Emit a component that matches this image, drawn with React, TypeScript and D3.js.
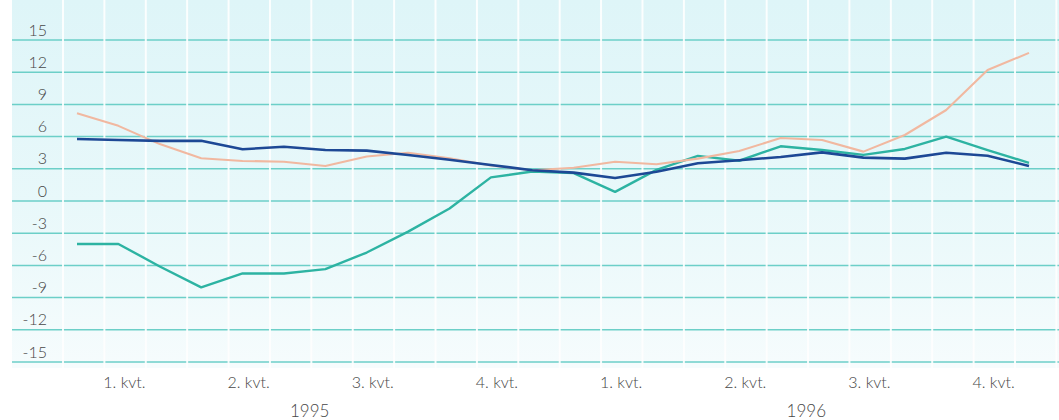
import React from "react";
import * as d3 from "d3";

// Monthly observations, Jan 1995 – Dec 1996
const years = ["1995", "1996"];
const quarterLabels = ["1. kvt.", "2. kvt.", "3. kvt.", "4. kvt."];
const yTicks = [15, 12, 9, 6, 3, 0, -3, -6, -9, -12, -15];

const seriesTeal = [
  -4.0, -4.0, -6.1, -8.05, -6.75, -6.75, -6.35, -4.8, -2.85, -0.7, 2.2, 2.75,
  2.6, 0.85, 2.9, 4.2, 3.75, 5.1, 4.75, 4.3, 4.85, 6.0, 4.75, 3.55,
];
const seriesBlue = [
  5.78, 5.68, 5.6, 5.62, 4.82, 5.06, 4.75, 4.69, 4.29, 3.85, 3.35, 2.87,
  2.64, 2.15, 2.73, 3.51, 3.8, 4.1, 4.53, 4.04, 3.95, 4.5, 4.22, 3.26,
];
const seriesSalmon = [
  8.17, 7.0, 5.3, 3.98, 3.73, 3.66, 3.26, 4.15, 4.5, 3.98, 3.3, 2.87,
  3.1, 3.66, 3.42, 3.95, 4.65, 5.87, 5.68, 4.6, 6.15, 8.48, 12.2, 13.8,
];

const W = 1059;
const H = 420;
const FONT = "Lato, 'Open Sans', sans-serif";
const TEXT = "#474747";

export default function App() {
  const x = d3.scaleLinear().domain([0, 23]).range([77, 1029]);
  const y = d3.scaleLinear().domain([-15, 15]).range([362, 40]);

  const line = d3
    .line<number>()
    .x((_, i) => x(i))
    .y((d) => y(d));

  const series = [
    { values: seriesTeal, color: "#2db3a2", width: 2.4 },
    { values: seriesSalmon, color: "#f1b8a0", width: 2.1 },
    { values: seriesBlue, color: "#1d4895", width: 2.6 },
  ];

  return (
    <svg
      width={W}
      height={H}
      style={{ position: "absolute", left: 0, top: 0, background: "#fff" }}
    >
      <defs>
        <linearGradient id="bg" x1="0" y1="0" x2="0" y2="1">
          <stop offset="0" stopColor="#def5f8" />
          <stop offset="0.55" stopColor="#e8f8fa" />
          <stop offset="1" stopColor="#f6fcfd" />
        </linearGradient>
      </defs>
      <rect x={12} y={0} width={W - 12} height={368} fill="url(#bg)" />

      {/* horizontal grid */}
      {yTicks.map((t) => (
        <line
          key={t}
          x1={12}
          x2={W}
          y1={y(t)}
          y2={y(t)}
          stroke="#6ccfc8"
          strokeWidth={1.5}
        />
      ))}

      {/* white month separators */}
      {d3.range(25).map((i) => (
        <line
          key={i}
          x1={x(i) - 14}
          x2={x(i) - 14}
          y1={0}
          y2={368}
          stroke="#ffffff"
          strokeWidth={2}
          opacity={0.9}
        />
      ))}

      {/* y tick labels */}
      {yTicks.map((t) => (
        <text
          key={t}
          x={47}
          y={y(t) - 4.5}
          textAnchor="end"
          fontFamily={FONT}
          fontWeight={300}
          fontSize={16}
          fill={TEXT}
        >
          {t}
        </text>
      ))}

      {/* data lines */}
      {series.map((s, k) => (
        <path
          key={k}
          d={line(s.values) || ""}
          fill="none"
          stroke={s.color}
          strokeWidth={s.width}
          strokeLinejoin="round"
        />
      ))}

      {/* quarter labels */}
      {years.map((yr, yi) =>
        quarterLabels.map((q, qi) => (
          <text
            key={yr + q}
            x={x(yi * 12 + qi * 3 + 1) + 6}
            y={388}
            textAnchor="middle"
            fontFamily={FONT}
            fontWeight={300}
            fontSize={16}
            fill={TEXT}
          >
            {q}
          </text>
        ))
      )}

      {/* year labels */}
      {years.map((yr, yi) => (
        <text
          key={yr}
          x={x(yi * 12 + 5.5) + 5}
          y={417}
          textAnchor="middle"
          fontFamily={FONT}
          fontWeight={300}
          fontSize={17}
          fill={TEXT}
        >
          {yr}
        </text>
      ))}
    </svg>
  );
}
